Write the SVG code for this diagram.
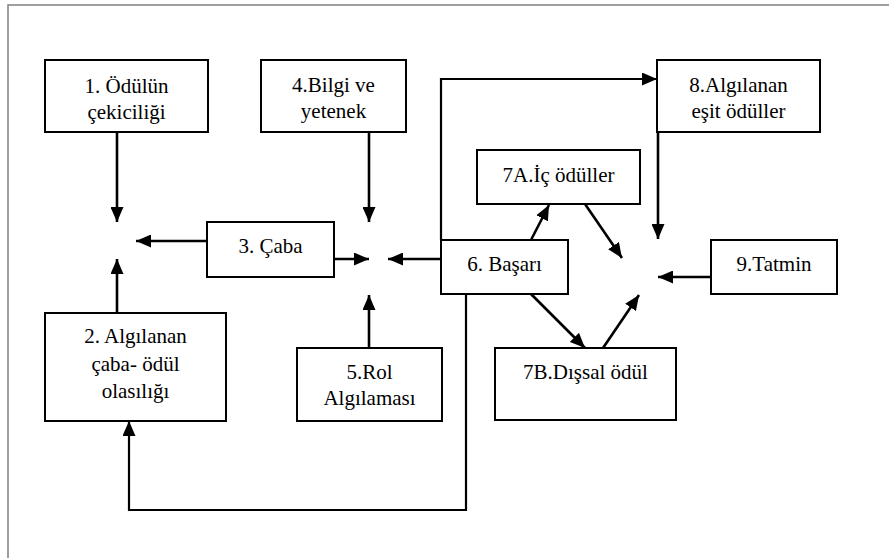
<svg xmlns="http://www.w3.org/2000/svg" width="889" height="558" viewBox="0 0 889 558">
  <style>
    .frame { fill: none; stroke: #808080; stroke-width: 1.5; }
    .box { fill: #ffffff; stroke: #000000; stroke-width: 2; }
    .arr { fill: none; stroke: #000000; stroke-width: 2.6; marker-end: url(#head); }
    .route { fill: none; stroke: #000000; stroke-width: 2.2; marker-end: url(#head); }
    svg text { font-family: 'Liberation Serif', serif !important; font-size: 21px !important; }
  </style>
  <defs>
    <marker id="head" markerUnits="userSpaceOnUse" markerWidth="15" markerHeight="13" refX="15" refY="6.5" orient="auto">
      <path d="M0,0 L15,6.5 L0,13 z" fill="#000000"/>
    </marker>
  </defs>

  <rect width="889" height="558" fill="#ffffff"/>
  <path class="frame" d="M8,558 L8,5 L889,5"/>

  <g id="connectors">
    <path class="arr" d="M117,132 L117,222"/>
    <path class="arr" d="M117,313 L117,259"/>
    <path class="arr" d="M207,241 L136,241"/>
    <path class="arr" d="M334,259 L369,259"/>
    <path class="arr" d="M369,132 L369,222"/>
    <path class="arr" d="M369,348 L369,295"/>
    <path class="arr" d="M441,259 L388,259"/>
    <path class="route" d="M441,240 L441,79 L657,79"/>
    <path class="route" d="M466,294 L466,510 L129,510 L129,421"/>
    <path class="arr" d="M531,240 L549,205"/>
    <path class="arr" d="M531,294 L585,348"/>
    <path class="arr" d="M585,204 L622,258"/>
    <path class="arr" d="M658,132 L658,239"/>
    <path class="arr" d="M603,348 L639,295"/>
    <path class="arr" d="M711,277 L658,277"/>
  </g>

  <g id="nodes" font-family="Liberation Serif" font-size="21" text-anchor="middle" fill="#000000">
    <g id="n1">
      <rect class="box" x="45" y="60" width="163" height="72"/>
      <text x="126.5" y="93" style="font-family:'Liberation Serif',serif !important">1. Ödülün</text>
      <text x="126.5" y="119" style="font-family:'Liberation Serif',serif !important">çekiciliği</text>
    </g>
    <g id="n2">
      <rect class="box" x="45" y="313" width="181" height="108"/>
      <text x="135.5" y="343" style="font-family:'Liberation Serif',serif !important">2. Algılanan</text>
      <text x="135.5" y="371" style="font-family:'Liberation Serif',serif !important">çaba- ödül</text>
      <text x="135.5" y="398" style="font-family:'Liberation Serif',serif !important">olasılığı</text>
    </g>
    <g id="n3">
      <rect class="box" x="207" y="222" width="127" height="55"/>
      <text x="270.5" y="253" style="font-family:'Liberation Serif',serif !important">3. Çaba</text>
    </g>
    <g id="n4">
      <rect class="box" x="261" y="60" width="145" height="72"/>
      <text x="333.5" y="92" style="font-family:'Liberation Serif',serif !important">4.Bilgi ve</text>
      <text x="333.5" y="118" style="font-family:'Liberation Serif',serif !important">yetenek</text>
    </g>
    <g id="n5">
      <rect class="box" x="297" y="348" width="145" height="73"/>
      <text x="369.5" y="379" style="font-family:'Liberation Serif',serif !important">5.Rol</text>
      <text x="369.5" y="405" style="font-family:'Liberation Serif',serif !important">Algılaması</text>
    </g>
    <g id="n6">
      <rect class="box" x="441" y="240" width="127" height="54"/>
      <text x="504.5" y="271" style="font-family:'Liberation Serif',serif !important">6. Başarı</text>
    </g>
    <g id="n7a">
      <rect class="box" x="477" y="150" width="163" height="54"/>
      <text x="558.5" y="182" style="font-family:'Liberation Serif',serif !important">7A.İç ödüller</text>
    </g>
    <g id="n7b">
      <rect class="box" x="495" y="348" width="181" height="72"/>
      <text x="585.5" y="379" style="font-family:'Liberation Serif',serif !important">7B.Dışsal ödül</text>
    </g>
    <g id="n8">
      <rect class="box" x="657" y="60" width="163" height="72"/>
      <text x="738.5" y="92" style="font-family:'Liberation Serif',serif !important">8.Algılanan</text>
      <text x="738.5" y="118" style="font-family:'Liberation Serif',serif !important">eşit ödüller</text>
    </g>
    <g id="n9">
      <rect class="box" x="711" y="240" width="126" height="54"/>
      <text x="774" y="271" style="font-family:'Liberation Serif',serif !important">9.Tatmin</text>
    </g>
  </g>
</svg>
